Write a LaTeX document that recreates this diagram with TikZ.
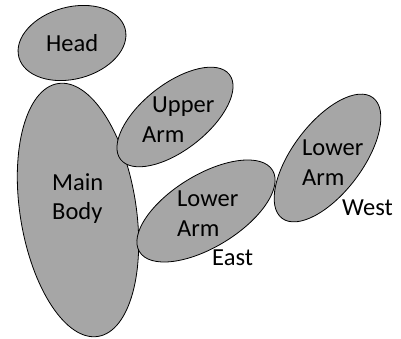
\documentclass[tikz,border=0pt]{standalone}
\usepackage{fontspec}
\setmainfont{Carlito}
\usetikzlibrary{shapes.geometric}
\begin{document}
\begin{tikzpicture}[x=1pt,y=1pt,
  part/.style={ellipse,draw=black,line width=0.8pt,fill=partgray,inner sep=0pt},
  lbl/.style={anchor=base west,inner sep=0pt,align=left,font=\fontsize{24.5}{30}\selectfont}]
\definecolor{partgray}{HTML}{A6A6A6}
\useasboundingbox (0,0) rectangle (401,339);
% body parts
\node[part,minimum width=110pt,minimum height=72pt,rotate=15] (head) at (72,296) {};
\node[part,minimum width=116pt,minimum height=256pt,rotate=9] (body) at (78,129) {};
\node[part,minimum width=138pt,minimum height=66pt,rotate=38] (upper) at (175,222) {};
\node[part,minimum width=156pt,minimum height=72pt,rotate=31.5] (lowerE) at (206,128) {};
\node[part,minimum width=151pt,minimum height=70pt,rotate=53] (lowerW) at (327.5,181) {};
% labels
\node[lbl] (thead) at (46,287) {Head};
\node[lbl] (tupper) at (142,196) {\hspace*{10pt}Upper\\Arm};
\node[lbl,font=\fontsize{24.5}{29}\selectfont] (tbody) at (52,119) {Main\\Body};
\node[lbl] (tlowerE) at (177,102) {Lower\\Arm};
\node[lbl] (teast) at (212,73) {East};
\node[lbl] (tlowerW) at (302,153) {Lower\\Arm};
\node[lbl] (twest) at (342,123) {West};
\end{tikzpicture}
\end{document}
